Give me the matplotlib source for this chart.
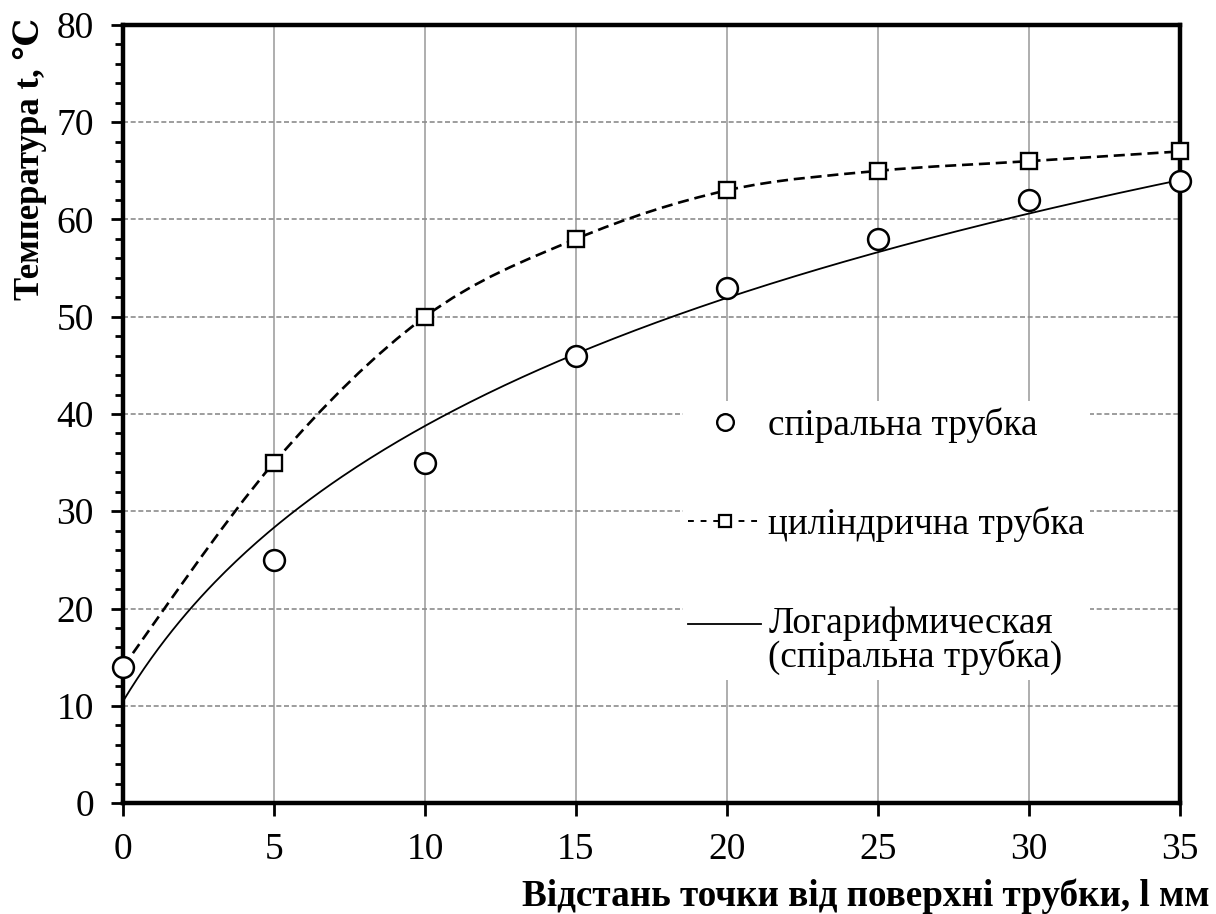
import numpy as np
import matplotlib
matplotlib.use("Agg")
from matplotlib import pyplot as plt
from matplotlib.path import Path
from matplotlib.patches import PathPatch
from matplotlib.lines import Line2D
from matplotlib.legend_handler import HandlerLine2D
from matplotlib.ticker import MultipleLocator

plt.rcParams['font.family'] = ['Liberation Serif', 'DejaVu Serif']

# distance from tube surface, mm
distance = [0, 5, 10, 15, 20, 25, 30, 35]
# temperature, C
t_spiral = [14, 25, 35, 46, 53, 58, 62, 64]
t_cylinder = [14, 35, 50, 58, 63, 65, 66, 67]

lbl_spiral = 'спіральна трубка'
lbl_cylinder = 'циліндрична трубка'
lbl_trend = 'Логарифмическая\n(спіральна трубка)'


def smooth_path(xs, ys):
    # catmull-rom segments as cubic bezier
    pts = np.column_stack([xs, ys]).astype(float)
    ext = np.vstack([pts[0], pts, pts[-1]])
    verts = [pts[0]]
    codes = [Path.MOVETO]
    for k in range(1, len(ext) - 2):
        p0, p1, p2, p3 = ext[k - 1], ext[k], ext[k + 1], ext[k + 2]
        verts += [p1 + (p2 - p0) / 6, p2 - (p3 - p1) / 6, p2]
        codes += [Path.CURVE4] * 3
    return Path(verts, codes)


class FirstLineHandler(HandlerLine2D):
    # put the handle beside the first line of a two-line label
    def create_artists(self, legend, orig_handle, xdescent, ydescent,
                       width, height, fontsize, trans):
        return super().create_artists(legend, orig_handle, xdescent,
                                      ydescent - 0.9 * fontsize, width, height,
                                      fontsize, trans)


fig = plt.figure(figsize=(12.16, 9.14), dpi=100)
ax = fig.add_axes([123 / 1216, 1 - 803 / 914, 1057 / 1216, 778 / 914])

ax.set_xlim(0, 35)
ax.set_ylim(0, 80)
ax.xaxis.set_major_locator(MultipleLocator(5))
ax.yaxis.set_major_locator(MultipleLocator(10))
ax.yaxis.set_minor_locator(MultipleLocator(2))

# grid: solid vertical, dashed horizontal
for xv in distance[1:-1]:
    ax.axvline(xv, color='#999999', lw=1.1, zorder=1)
for yv in range(10, 80, 10):
    ax.axhline(yv, color='#8c8c8c', lw=1.2, ls=(0, (3, 1.6)), zorder=1)

# cylindrical tube - smoothed dashed line
ax.add_patch(PathPatch(smooth_path(distance, t_cylinder), fill=False,
                       ec='black', lw=1.9, ls=(0, (4.2, 2.2)), zorder=3,
                       clip_on=False))
ax.plot(distance[1:], t_cylinder[1:], ls='none', marker='s', ms=11, mfc='white',
        mec='black', mew=1.7, zorder=5, clip_on=False)

# logarithmic trend of spiral tube (x as point index 1..n)
idx = np.arange(1, len(distance) + 1)
a, b = np.polyfit(np.log(idx), t_spiral, 1)
xx = np.linspace(0, 35, 300)
ax.plot(xx, a * np.log(xx / 5 + 1) + b, color='black', lw=1.3, zorder=4,
        clip_on=False)

ax.plot(distance, t_spiral, ls='none', marker='o', ms=15, mfc='white',
        mec='black', mew=1.8, zorder=6, clip_on=False)

for s in ax.spines.values():
    s.set_linewidth(3.2)
ax.tick_params(axis='both', which='major', direction='out', length=9, width=2,
               labelsize=27, top=False, right=False)
ax.tick_params(axis='y', which='minor', direction='out', length=6, width=2)
ax.tick_params(axis='y', pad=12)
ax.tick_params(axis='x', pad=12)

trend_handle = Line2D([], [], color='black', lw=1.3)
handles = [
    Line2D([], [], ls='none', marker='o', ms=12, mfc='white', mec='black', mew=1.7),
    Line2D([], [], color='black', lw=1.4, ls=(0, (3, 3.5)), marker='s', ms=9,
           mfc='white', mec='black', mew=1.6),
    trend_handle,
]
leg = ax.legend(handles, [lbl_spiral, lbl_cylinder, lbl_trend],
                loc='upper left', bbox_to_anchor=(0.512, 0.54), fontsize=26.8,
                frameon=True, facecolor='white', edgecolor='none', framealpha=1,
                fancybox=False, borderpad=0.15, labelspacing=1.72,
                handlelength=1.95, handletextpad=0.2, numpoints=1,
                handler_map={trend_handle: FirstLineHandler()})
for t in leg.get_texts():
    t.set_linespacing(0.95)
leg.set_zorder(7)

fig.text(30 / 1216, 1 - 18 / 914, 'Температура t, ℃', rotation=90,
         ha='center', va='top', fontsize=25, fontweight='bold')
fig.text(1210 / 1216, 1 - 906 / 914, 'Відстань точки від поверхні трубки, l мм',
         ha='right', va='baseline', fontsize=26.7, fontweight='bold')

fig.savefig('out.png', dpi=100)
